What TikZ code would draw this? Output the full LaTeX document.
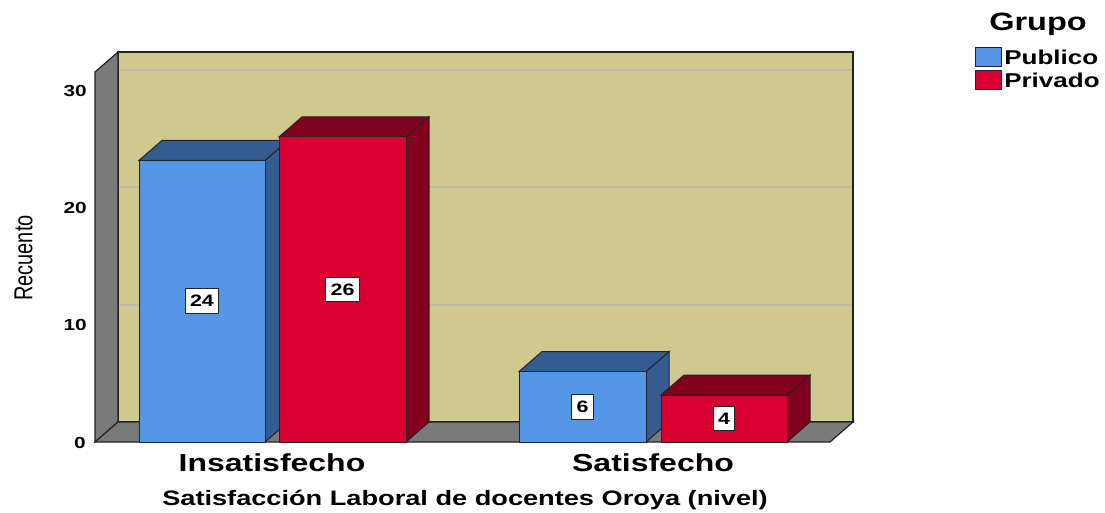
\documentclass[tikz,border=0pt]{standalone}
\usepackage{fontspec}
\setmainfont{Liberation Sans}
\definecolor{wallc}{RGB}{207,201,143}
\definecolor{sidec}{RGB}{122,122,122}
\definecolor{gridc}{RGB}{188,188,170}
\definecolor{bluef}{RGB}{85,150,230}
\definecolor{blued}{RGB}{52,92,145}
\definecolor{redf}{RGB}{215,0,48}
\definecolor{redd}{RGB}{128,0,30}
\definecolor{edgec}{RGB}{35,35,35}
\newcommand\mybarthreed[5]{%
  \pgfmathsetmacro\ytop{442-11.733*#3}%
  \filldraw[barline,fill=#5] (#2,442) -- (#2+23,422) -- (#2+23,\ytop-20) -- (#2,\ytop) -- cycle;
  \filldraw[barline,fill=#5] (#1,\ytop) -- (#1+23,\ytop-20) -- (#2+23,\ytop-20) -- (#2,\ytop) -- cycle;
  \filldraw[barline,fill=#4] (#1,442) rectangle (#2,\ytop);
}
\begin{document}
\begin{tikzpicture}[x=1pt,y=-1pt,
  barline/.style={draw=edgec,line width=1pt,line join=miter},
  wallline/.style={draw=edgec,line width=1.2pt},
  vlab/.style={draw=edgec,fill=white,line width=0.9pt,font=\bfseries\fontsize{16.5}{16.5}\selectfont,xscale=1.3,inner xsep=3.8pt,inner ysep=6.5pt,text height=11.8pt,text depth=0pt},
  ticklab/.style={font=\bfseries\fontsize{16}{16}\selectfont,xscale=1.3,anchor=east,inner sep=0pt},
  catlab/.style={font=\bfseries\fontsize{24.6}{24.6}\selectfont,xscale=1.3,inner sep=0pt},
  leglab/.style={font=\bfseries\fontsize{20}{20}\selectfont,xscale=1.3,anchor=west,inner sep=0pt},
  legbox/.style={draw=edgec,line width=0.9pt}]
\useasboundingbox (0,0) rectangle (1105,513);
\fill[white] (0,0) rectangle (1105,513);
% back wall
\filldraw[wallc,draw=edgec,line width=1.2pt] (118,52) rectangle (853,422);
% grid lines
\foreach \gy in {70,187,305}{
  \draw[gridc,line width=2pt] (118.6,\gy) -- (852.4,\gy);
}
% left wall
\filldraw[fill=sidec,wallline] (95,72) -- (118,52) -- (118,422) -- (95,442) -- cycle;
% floor
\filldraw[fill=sidec,wallline] (95,442) -- (118,422) -- (853,422) -- (830,442) -- cycle;
% bars
\mybarthreed{139}{265}{24}{bluef}{blued}
\mybarthreed{279}{406}{26}{redf}{redd}
\mybarthreed{519}{646}{6}{bluef}{blued}
\mybarthreed{661}{787}{4}{redf}{redd}
% value labels
\node[vlab] (v24) at (202,301) {24};
\node[vlab] (v26) at (342.5,289.5) {26};
\node[vlab] (v6) at (582.5,407) {6};
\node[vlab] (v4) at (724,418.5) {4};
% tick labels
\node[ticklab] (t30) at (87,91) {30};
\node[ticklab] (t20) at (87,208) {20};
\node[ticklab] (t10) at (87,325) {10};
\node[ticklab] (t0) at (86,443) {0};
% axis titles
\node[font=\fontsize{20}{20}\selectfont,rotate=90,yscale=1.3,inner sep=0pt] (ytitle) at (23.5,258) {Recuento};
\node[catlab] (c1) at (272,463) {Insatisfecho};
\node[catlab] (c2) at (653,463) {Satisfecho};
\node[font=\bfseries\fontsize{20.9}{20.9}\selectfont,xscale=1.3,inner sep=0pt] (xtitle) at (465,500) {Satisfacción Laboral de docentes Oroya (nivel)};
% legend
\node[font=\bfseries\fontsize{25}{25}\selectfont,xscale=1.3,inner sep=0pt] (legtitle) at (1038,24) {Grupo};
\filldraw[legbox,fill=bluef] (975,47) rectangle (1001,66);
\filldraw[legbox,fill=redf] (975,70) rectangle (1001,89);
\node[leglab] (lpub) at (1004,57) {Publico};
\node[leglab] (lpriv) at (1004,80) {Privado};
\end{tikzpicture}
\end{document}
